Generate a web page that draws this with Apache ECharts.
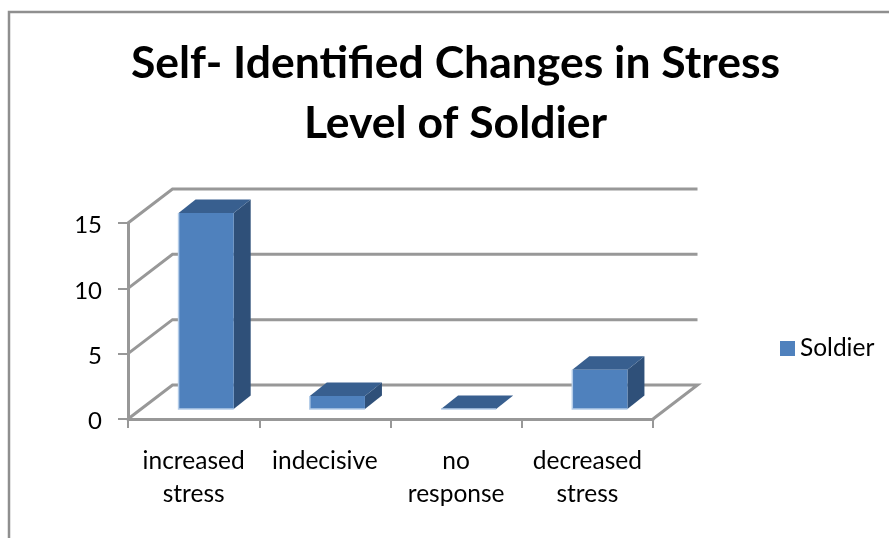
<!DOCTYPE html>
<html>
<head>
<meta charset="utf-8">
<style>
  html, body { margin: 0; padding: 0; background: #fff; }
  #chart { width: 889px; height: 538px; }
</style>
<script src="https://cdn.jsdelivr.net/npm/echarts@6/dist/echarts.min.js"></script>
</head>
<body>
<div id="chart"></div>
<script>
const categories = ["increased\nstress", "indecisive", "no\nresponse", "decreased\nstress"];
const soldierValues = [15, 1, 0, 3];
const yTicks = [0, 5, 10, 15];

// fake 3D: how far the back wall and the bars sit behind the axis plane, in px
const WALL_DX = 44.5, WALL_DY = -34;
const BAR_DX = 17, BAR_DY = -13.5;
const INSET_DX = 12.5, INSET_DY = -10;
const BAR_RATIO = 0.42;

const AXIS_GREY = "#989898";

function renderWall(params, api) {
  const v = api.value(1);
  const band = api.size([1, 0])[0];
  const first = api.coord([0, v]);
  const last = api.coord([categories.length - 1, v]);
  const x0 = first[0] - band / 2, x1 = last[0] + band / 2, y = first[1];
  const points = [[x0, y], [x0 + WALL_DX, y + WALL_DY], [x1 + WALL_DX, y + WALL_DY]];
  // the floor also closes back to the front edge
  if (v === 0) points.push([x1, y]);
  return {
    type: "polyline",
    shape: { points },
    style: { stroke: AXIS_GREY, lineWidth: 3, fill: null },
    silent: true,
  };
}

function renderBar(params, api) {
  const base = api.coord([api.value(0), 0]);
  const top = api.coord([api.value(0), api.value(1)]);
  const w = api.size([1, 0])[0] * BAR_RATIO;
  const x0 = base[0] - w / 2 + INSET_DX, x1 = x0 + w;
  const y0 = base[1] + INSET_DY, y1 = top[1] + INSET_DY;
  const poly = (points, fill) => ({ type: "polygon", shape: { points }, style: { fill } });
  return {
    type: "group",
    children: [
      poly([[x1, y0], [x1 + BAR_DX, y0 + BAR_DY], [x1 + BAR_DX, y1 + BAR_DY], [x1, y1]], "#2f5079"),
      poly([[x0, y1], [x0 + BAR_DX, y1 + BAR_DY], [x1 + BAR_DX, y1 + BAR_DY], [x1, y1]], "#385f8f"),
      poly([[x0, y0], [x1, y0], [x1, y1], [x0, y1]], "#4f81bd"),
      { type: "polyline", shape: { points: [[x0, y1], [x0, y0], [x1, y0]] },
        style: { stroke: "#b4cce8", lineWidth: 1.5, fill: null } },
    ],
  };
}

const chart = echarts.init(document.getElementById("chart"), null, { renderer: "canvas" });
chart.setOption({
  animation: false,
  backgroundColor: "#fff",
  textStyle: { fontFamily: "Lato" },
  title: {
    text: "Self- Identified Changes in Stress\nLevel of Soldier",
    left: 450.5,
    top: 29,
    textAlign: "center",
    textStyle: { fontFamily: "Lato", fontSize: 44.5, fontWeight: "bold", color: "#000", lineHeight: 60 },
  },
  legend: {
    data: [{ name: "Soldier", icon: "rect" }],
    left: 775,
    top: 331,
    itemWidth: 15,
    itemHeight: 15,
    itemGap: 6,
    textStyle: { fontFamily: "Lato", fontSize: 24.5, color: "#000" },
  },
  grid: { left: 128, right: 236, top: 223, bottom: 119 },
  xAxis: {
    type: "category",
    data: categories,
    axisLine: { lineStyle: { color: AXIS_GREY, width: 3 } },
    axisTick: { show: true, length: 9, alignWithLabel: false, lineStyle: { color: AXIS_GREY, width: 2 } },
    axisLabel: { interval: 0, margin: 26, fontSize: 24.5, color: "#000", lineHeight: 33 },
  },
  yAxis: {
    type: "value",
    min: 0,
    max: 15,
    interval: 5,
    splitLine: { show: false },
    axisLine: { show: true, lineStyle: { color: AXIS_GREY, width: 3 } },
    axisTick: { show: true, length: 10, lineStyle: { color: AXIS_GREY, width: 2 } },
    // top-anchored with a small line height pushes the digits down to where the original has them
    axisLabel: { margin: 26, fontSize: 24, color: "#000", verticalAlign: "top", lineHeight: 5 },
  },
  series: [
    {
      name: "wall",
      type: "custom",
      renderItem: renderWall,
      data: yTicks.map(v => [0, v]),
      encode: { x: 0, y: 1 },
      clip: false,
      silent: true,
      z: 1,
    },
    {
      name: "Soldier",
      type: "custom",
      renderItem: renderBar,
      data: soldierValues.map((v, i) => [i, v]),
      encode: { x: 0, y: 1 },
      itemStyle: { color: "#4f81bd" },
      clip: false,
      z: 5,
    },
  ],
  graphic: [
    {
      type: "polyline",
      shape: { points: [[9, 538], [9, 12], [889, 12]] },
      style: { stroke: "#8f8f8f", lineWidth: 2.5, fill: null },
      silent: true,
    },
  ],
});
window.addEventListener("resize", () => chart.resize());
</script>
</body>
</html>
